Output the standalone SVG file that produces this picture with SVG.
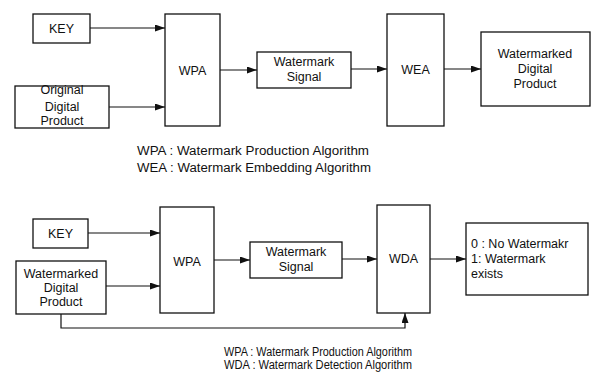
<svg xmlns="http://www.w3.org/2000/svg" width="592" height="376" viewBox="0 0 592 376">
<style>
.box{fill:#fff;stroke:#111;stroke-width:1.3}
.ln{fill:none;stroke:#111;stroke-width:1.2}
text{font-family:"Liberation Sans",Arial,sans-serif;font-size:12.5px;fill:#111}
.c{text-anchor:middle}
</style>
<defs>
<marker id="ah" markerWidth="10" markerHeight="7" refX="10" refY="3.5" orient="auto" markerUnits="userSpaceOnUse">
<path d="M0,0 L10,3.5 L0,7 Z" fill="#111"/>
</marker>
</defs>
<rect width="592" height="376" fill="#fff"/>
<g id="connectors">
<path class="ln" d="M90,28 H165" marker-end="url(#ah)"/>
<path class="ln" d="M109,107 H165" marker-end="url(#ah)"/>
<path class="ln" d="M220,70 H257" marker-end="url(#ah)"/>
<path class="ln" d="M351,69 H387" marker-end="url(#ah)"/>
<path class="ln" d="M444,69 H481" marker-end="url(#ah)"/>
<path class="ln" d="M88,233 H160" marker-end="url(#ah)"/>
<path class="ln" d="M106,286 H160" marker-end="url(#ah)"/>
<path class="ln" d="M214,260 H250" marker-end="url(#ah)"/>
<path class="ln" d="M342,259 H377" marker-end="url(#ah)"/>
<path class="ln" d="M430,259 H466" marker-end="url(#ah)"/>
<path class="ln" d="M61,314 V328 H405 V313" marker-end="url(#ah)"/>
</g>
<g id="key1"><rect class="box" x="33" y="14" width="57" height="29"/><text class="c" x="61.5" y="33">KEY</text></g>
<g id="odp1"><rect class="box" x="15" y="86" width="94" height="42"/>
<text class="c" x="62" y="94">Original</text><text class="c" x="62" y="111">Digital</text><text class="c" x="62" y="125">Product</text></g>
<g id="wpa1"><rect class="box" x="165" y="14" width="55" height="112"/><text class="c" x="192.5" y="75">WPA</text></g>
<g id="sig1"><rect class="box" x="257" y="52" width="94" height="36"/>
<text class="c" x="304" y="66">Watermark</text><text class="c" x="304" y="81">Signal</text></g>
<g id="wea"><rect class="box" x="387" y="14" width="57" height="112"/><text class="c" x="415.5" y="74">WEA</text></g>
<g id="wdp1"><rect class="box" x="481" y="32" width="109" height="74"/>
<text class="c" x="535" y="58">Watermarked</text><text class="c" x="535" y="73">Digital</text><text class="c" x="535" y="88">Product</text></g>
<g id="legend1">
<text x="137" y="155" textLength="232" lengthAdjust="spacingAndGlyphs">WPA : Watermark Production Algorithm</text>
<text x="137" y="172" textLength="234" lengthAdjust="spacingAndGlyphs">WEA : Watermark Embedding Algorithm</text>
</g>
<g id="key2"><rect class="box" x="33" y="219" width="55" height="29"/><text class="c" x="60.5" y="238">KEY</text></g>
<g id="wdp2"><rect class="box" x="16" y="261" width="90" height="53"/>
<text class="c" x="61" y="278">Watermarked</text><text class="c" x="61" y="292">Digital</text><text class="c" x="61" y="306">Product</text></g>
<g id="wpa2"><rect class="box" x="160" y="207" width="54" height="106"/><text class="c" x="187" y="266">WPA</text></g>
<g id="sig2"><rect class="box" x="250" y="242" width="92" height="36"/>
<text class="c" x="296" y="256">Watermark</text><text class="c" x="296" y="271">Signal</text></g>
<g id="wda"><rect class="box" x="377" y="205" width="53" height="108"/><text class="c" x="403.5" y="263">WDA</text></g>
<g id="result"><rect class="box" x="466" y="223" width="122" height="72"/>
<text x="471" y="248">0 : No Watermakr</text><text x="471" y="263">1: Watermark</text><text x="471" y="278">exists</text></g>
<g id="legend2">
<text x="224" y="356" font-size="12" textLength="188" lengthAdjust="spacingAndGlyphs">WPA : Watermark Production Algorithm</text>
<text x="224" y="369" font-size="12" textLength="188" lengthAdjust="spacingAndGlyphs">WDA : Watermark Detection Algorithm</text>
</g>
</svg>
